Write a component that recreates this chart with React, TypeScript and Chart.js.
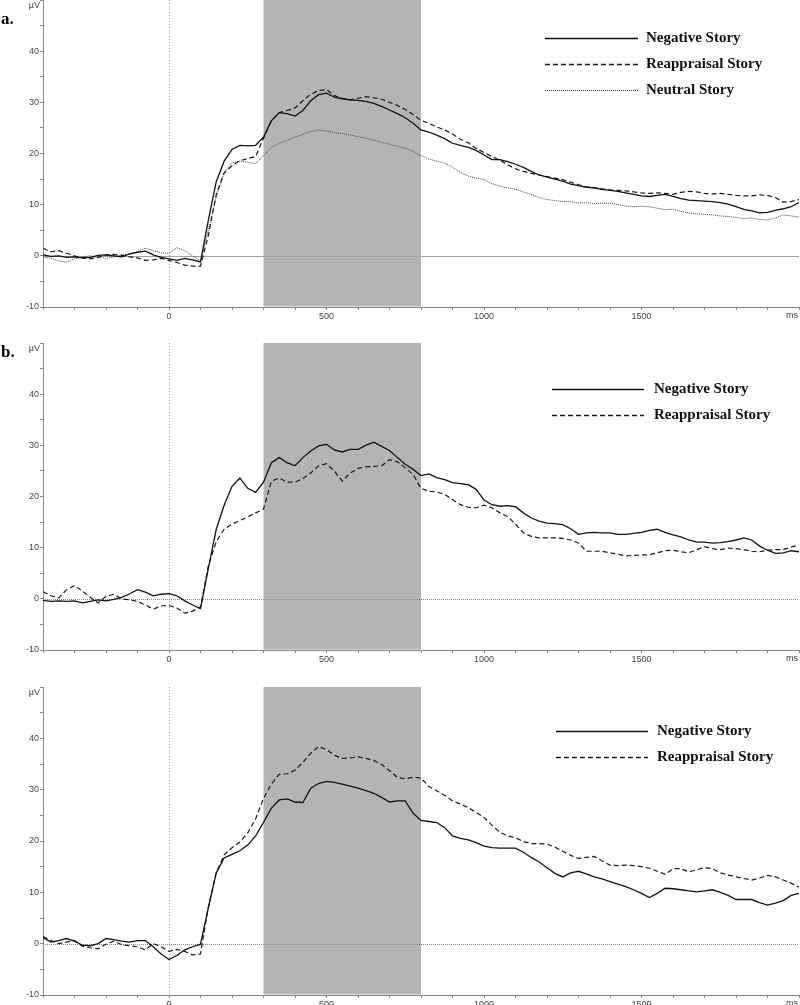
import React, { useEffect, useRef } from 'react';
import { Chart, registerables } from 'chart.js';

Chart.register(...registerables);

// time axis (ms), sampled every 25 ms from -400 to 2000
const TIMES: number[] = Array.from({ length: 97 }, (_, i) => -400 + i * 25);

const X_TICKS = [-400, -300, -200, -100, 0, 100, 200, 300, 400, 500, 600, 700, 800, 900, 1000, 1100, 1200, 1300, 1400, 1500, 1600, 1700, 1800, 1900, 2000];
const X_LABELS = [0, 500, 1000, 1500];
const Y_TICKS = [-10, -5, 0, 5, 10, 15, 20, 25, 30, 35, 40, 45, 50];
const Y_LABELS = [-10, 0, 10, 20, 30, 40];
const SHADE_FROM = 300;
const SHADE_TO = 800;

const LABEL_NEG = 'Negative Story';
const LABEL_REA = 'Reappraisal Story';
const LABEL_NEU = 'Neutral Story';

// Panel a
const A_NEGATIVE = [
  0.2, -0.1, 0.0, -0.3, -0.2, -0.4, -0.3, 0.1, 0.2, 0.0,
  -0.2, 0.4, 0.7, 0.9, 0.2, -0.3, -0.6, -0.9, -0.5, -0.8,
  -1.2, 7, 14.5, 18.5, 20.8, 21.6, 21.5, 21.6, 23.2, 26.4,
  28.0, 27.8, 27.3, 28.4, 30.3, 31.5, 31.8, 31.0, 30.7, 30.5,
  30.4, 30.2, 29.8, 29.2, 28.5, 27.8, 27.0, 25.9, 24.6, 24.2,
  23.6, 22.9, 22.0, 21.6, 21.2, 20.6, 19.7, 18.8, 18.8, 18.4,
  17.9, 17.3, 16.5, 15.8, 15.4, 15.0, 14.6, 14.0, 13.7, 13.4,
  13.3, 13.0, 12.8, 12.6, 12.3, 12.0, 11.7, 11.6, 11.8, 12.0,
  11.6, 11.2, 10.9, 10.8, 10.7, 10.6, 10.4, 10.1, 9.6, 9.1,
  8.8, 8.4, 8.5, 8.9, 9.2, 9.6, 10.4,
];
const A_REAPPRAISAL = [
  1.5, 0.8, 1.0, 0.5, 0.0, -0.4, -0.6, -0.3, 0.2, 0.3,
  0.1, -0.2, -0.4, -0.9, -0.8, -0.5, -0.9, -1.3, -1.8, -2.0,
  -2.0, 4, 12, 16.2, 17.6, 18.6, 19.0, 19.4, 23.0, 26.4,
  28.0, 28.4, 28.9, 30.3, 31.6, 32.3, 32.5, 31.3, 30.8, 30.5,
  30.8, 31.1, 30.9, 30.6, 30.0, 29.4, 28.6, 27.6, 26.5, 25.9,
  25.2, 24.6, 23.8, 22.8, 22.1, 21.0, 20.2, 19.4, 18.7, 17.8,
  17.0, 16.5, 16.1, 15.8, 15.5, 15.2, 14.9, 14.4, 13.9, 13.5,
  13.3, 13.1, 12.9, 12.8, 12.7, 12.5, 12.3, 12.2, 12.3, 12.2,
  12.0, 12.4, 12.6, 12.5, 12.2, 12.1, 12.2, 12.0, 11.8, 11.7,
  11.7, 11.9, 11.8, 11.4, 10.5, 10.6, 11.0,
];
const A_NEUTRAL = [
  -0.2, -0.5, -1.0, -1.2, -0.6, -0.2, 0.0, -0.3, -0.5, -0.2,
  0.2, 0.3, 0.8, 1.5, 1.0, 0.6, 0.5, 1.6, 1.0, 0.0,
  -1.0, 5, 11.5, 16.2, 18.2, 18.5, 18.3, 18.0, 19.6, 21.2,
  22.0, 22.6, 23.2, 23.7, 24.3, 24.6, 24.4, 24.1, 23.9, 23.6,
  23.3, 23.0, 22.6, 22.2, 21.8, 21.4, 21.0, 20.4, 19.6, 18.9,
  18.5, 18.1, 17.3, 16.3, 15.6, 15.2, 14.9, 14.1, 13.6, 13.3,
  13.0, 12.5, 12.0, 11.4, 11.0, 10.8, 10.6, 10.6, 10.3, 10.4,
  10.2, 10.3, 10.3, 10.0, 9.7, 9.6, 9.7, 9.6, 9.3, 9.0,
  9.1, 8.7, 8.4, 8.2, 8.1, 8.0, 7.8, 7.7, 7.5, 7.3,
  7.4, 7.1, 7.0, 7.4, 8.0, 7.8, 7.6,
];

// Panel b
const B_NEGATIVE = [
  -0.3, -0.5, -0.4, -0.5, -0.4, -0.8, -0.5, -0.2, -0.4, -0.1,
  0.3, 1.0, 1.8, 1.3, 0.6, 0.9, 1.0, 0.6, -0.4, -1.2,
  -1.9, 6.0, 13.6, 18.3, 22.0, 23.6, 21.6, 20.8, 22.8, 26.6,
  27.6, 26.6, 26.0, 27.6, 28.9, 29.9, 30.2, 29.1, 28.7, 29.2,
  29.2, 30.0, 30.6, 29.8, 29.0, 27.6, 26.3, 25.3, 24.1, 24.4,
  23.7, 23.3, 22.7, 22.5, 22.3, 21.4, 19.3, 18.4, 18.1, 18.2,
  18.0, 16.8, 15.8, 15.2, 14.8, 14.7, 14.5, 13.7, 12.6, 12.9,
  13.0, 12.9, 12.9, 12.6, 12.6, 12.8, 13.0, 13.4, 13.6, 13.0,
  12.5, 12.1, 11.5, 11.1, 11.1, 10.9, 11.0, 11.2, 11.5, 11.9,
  11.5, 10.3, 9.5, 8.9, 9.0, 9.4, 9.2,
];
const B_REAPPRAISAL = [
  1.4, 0.6, 0.2, 1.8, 2.6, 1.5, 0.3, -0.8, 0.5, 0.9,
  0.0, -0.2, -0.5, -1.2, -2.0, -1.4, -1.3, -1.8, -2.8, -2.4,
  -1.6, 6.5, 11.2, 13.6, 14.6, 15.3, 16.0, 16.8, 17.5, 23.0,
  23.6, 22.8, 22.8, 23.5, 24.6, 26.0, 26.4, 25.0, 23.0, 24.6,
  25.5, 25.8, 25.9, 26.0, 27.2, 26.8, 25.6, 24.3, 21.6, 21.0,
  20.9, 20.4, 19.4, 18.4, 17.9, 17.8, 18.3, 17.8, 16.8, 16.1,
  14.6, 12.9, 12.2, 11.9, 11.9, 11.9, 11.8, 11.5, 10.9, 9.3,
  9.3, 9.3, 9.0, 8.7, 8.4, 8.5, 8.6, 8.6, 9.0, 9.4,
  9.5, 9.2, 9.0, 9.6, 10.2, 9.8, 9.6, 9.9, 9.8, 9.6,
  9.3, 9.2, 9.5, 9.6, 9.6, 10.1, 10.5,
];

// Panel c
const C_NEGATIVE = [
  1.2, 0.3, 0.6, 1.0, 0.5, -0.3, -0.4, 0.0, 1.0, 0.8,
  0.5, 0.3, 0.6, 0.6, -0.6, -2.0, -3.1, -2.3, -1.2, -0.6,
  -0.1, 7.0, 13.8, 16.7, 17.4, 18.1, 19.2, 21.0, 23.6, 26.4,
  28.0, 28.2, 27.6, 27.5, 30.3, 31.2, 31.6, 31.4, 31.1, 30.7,
  30.3, 29.8, 29.3, 28.5, 27.6, 27.8, 27.8, 25.4, 24.0, 23.8,
  23.6, 22.6, 21.0, 20.5, 20.2, 19.7, 19.0, 18.7, 18.6, 18.6,
  18.6, 17.8, 16.8, 15.9, 14.8, 13.7, 13.0, 13.8, 14.1, 13.6,
  13.0, 12.6, 12.1, 11.6, 11.1, 10.5, 9.8, 9.0, 9.8, 10.8,
  10.7, 10.5, 10.3, 10.1, 10.3, 10.5, 10.0, 9.4, 8.6, 8.6,
  8.6, 8.0, 7.5, 7.9, 8.4, 9.4, 9.8,
];
const C_REAPPRAISAL = [
  1.4, 0.6, 0.0, 0.3, 0.6, -0.5, -0.8, -1.0, -0.1, 0.5,
  -0.2, -0.4, -0.6, -1.2, 0.0, -0.6, -1.5, -1.1, -1.5, -2.2,
  -2.0, 7.2, 13.8, 17.3, 18.7, 19.8, 21.6, 24.3, 28.3, 31.1,
  33.0, 33.1, 33.8, 35.3, 37.1, 38.4, 37.8, 36.7, 36.1, 36.2,
  36.4, 36.1, 35.7, 34.9, 33.7, 32.4, 32.1, 32.4, 32.3, 30.6,
  29.8, 28.9, 27.8, 27.2, 26.5, 25.6, 24.6, 23.1, 21.7, 21.0,
  20.6, 19.9, 19.5, 19.5, 19.4, 18.8, 18.0, 17.2, 16.6, 16.8,
  17.0, 16.1, 15.3, 15.2, 15.3, 15.2, 15.0, 14.7, 14.1, 13.5,
  14.6, 14.6, 14.0, 14.4, 14.8, 14.6, 13.8, 13.4, 13.0, 12.7,
  12.4, 12.8, 13.3, 13.0, 12.4, 11.8, 11.0,
];

const STYLE_NEG = { borderColor: '#111111', borderWidth: 1.3, borderDash: [] as number[] };
const STYLE_REA = { borderColor: '#1a1a1a', borderWidth: 1.2, borderDash: [5, 3] };
const STYLE_NEU = { borderColor: '#444444', borderWidth: 1, borderDash: [1, 1] };

function makeDataset(label: string, values: number[], style: any) {
  return {
    label,
    data: TIMES.map((t, i) => ({ x: t, y: values[i] })),
    borderColor: style.borderColor,
    borderWidth: style.borderWidth,
    borderDash: style.borderDash,
    pointRadius: 0,
    fill: false,
    tension: 0,
  };
}

type PanelProps = {
  top: number;
  height: number;
  datasets: any[];
  letter?: string;
  letterY?: number;
  legendX: number;
  legendLineEnd: number;
  legendTextX: number;
  legendY: number;
  zeroSolid: boolean;
};

function Panel(props: PanelProps) {
  const ref = useRef<HTMLCanvasElement>(null);
  useEffect(() => {
    const canvas = ref.current!;
    const decorations = {
      id: 'decorations',
      beforeDatasetsDraw(chart: any) {
        const { ctx, chartArea } = chart;
        const xs = chart.scales.x;
        const ys = chart.scales.y;
        ctx.save();
        // shaded window
        const x1 = xs.getPixelForValue(SHADE_FROM);
        const x2 = xs.getPixelForValue(SHADE_TO);
        ctx.fillStyle = '#b4b4b4';
        ctx.fillRect(x1, chartArea.top, x2 - x1, chartArea.bottom - chartArea.top - 0.5);
        // zero horizontal line
        const y0 = Math.round(ys.getPixelForValue(0)) + 0.5;
        ctx.beginPath();
        ctx.lineWidth = 1;
        if (props.zeroSolid) {
          ctx.strokeStyle = '#a0a0a0';
          ctx.setLineDash([]);
        } else {
          ctx.strokeStyle = '#8a8a8a';
          ctx.setLineDash([1, 1]);
        }
        ctx.moveTo(chartArea.left, y0);
        ctx.lineTo(chartArea.right, y0);
        ctx.stroke();
        // zero vertical line
        const xz = Math.round(xs.getPixelForValue(0)) + 0.5;
        ctx.beginPath();
        ctx.strokeStyle = '#9a9a9a';
        ctx.setLineDash([1, 2]);
        ctx.moveTo(xz, chartArea.top);
        ctx.lineTo(xz, chartArea.bottom);
        ctx.stroke();
        ctx.restore();
      },
      afterDraw(chart: any) {
        const { ctx, chartArea } = chart;
        ctx.save();
        // unit labels
        ctx.fillStyle = '#444';
        ctx.font = '9px "Liberation Sans", Arial, sans-serif';
        ctx.textAlign = 'right';
        ctx.textBaseline = 'middle';
        ctx.fillText('\u00b5V', chartArea.left - 3, chartArea.top + 6);
        ctx.textBaseline = 'top';
        ctx.fillText('ms', 798, chartArea.bottom + 4);
        // panel letter
        if (props.letter) {
          ctx.fillStyle = '#000';
          ctx.font = 'bold 17px "Liberation Serif", "Times New Roman", serif';
          ctx.textAlign = 'left';
          ctx.textBaseline = 'alphabetic';
          ctx.fillText(props.letter, 1, props.letterY);
        }
        // legend
        chart.data.datasets.forEach((ds: any, i: number) => {
          const y = props.legendY + i * 26;
          ctx.beginPath();
          ctx.strokeStyle = ds.borderColor;
          ctx.lineWidth = ds.borderWidth + 0.3;
          ctx.setLineDash(ds.borderDash || []);
          ctx.moveTo(props.legendX, y + 0.5);
          ctx.lineTo(props.legendLineEnd, y + 0.5);
          ctx.stroke();
          ctx.setLineDash([]);
          ctx.fillStyle = '#111';
          ctx.font = 'bold 15px "Liberation Serif", "Times New Roman", serif';
          ctx.textAlign = 'left';
          ctx.textBaseline = 'middle';
          ctx.fillText(ds.label, props.legendTextX, y);
        });
        ctx.restore();
      },
    };

    const tickFont = { family: '"Liberation Sans", Arial, sans-serif', size: 9 };
    const chart = new Chart(canvas, {
      type: 'line',
      data: { datasets: props.datasets },
      options: {
        animation: false,
        responsive: false,
        maintainAspectRatio: false,
        devicePixelRatio: 1,
        layout: { padding: { top: 10, left: 0, right: 0, bottom: 0 } },
        plugins: { legend: { display: false }, tooltip: { enabled: false } },
        elements: { point: { radius: 0 }, line: { tension: 0 } },
        scales: {
          x: {
            type: 'linear',
            min: -400,
            max: 2000,
            afterBuildTicks: (s: any) => {
              s.ticks = X_TICKS.map((v) => ({ value: v }));
            },
            afterFit: (s: any) => {
              s.height = 20;
            },
            ticks: {
              autoSkip: false,
              maxRotation: 0,
              padding: 1,
              color: '#444',
              font: tickFont,
              callback: (v: any) => (X_LABELS.includes(Number(v)) ? String(v) : ''),
            },
            grid: { drawOnChartArea: false, drawTicks: true, tickLength: 3, tickColor: '#888' },
            border: { color: '#888', width: 1 },
          },
          y: {
            type: 'linear',
            min: -10,
            max: 50,
            afterBuildTicks: (s: any) => {
              s.ticks = Y_TICKS.map((v) => ({ value: v }));
            },
            afterFit: (s: any) => {
              s.width = 43;
            },
            ticks: {
              autoSkip: false,
              padding: 1,
              color: '#444',
              font: tickFont,
              callback: (v: any) => (Y_LABELS.includes(Number(v)) ? String(v) : ''),
            },
            grid: { drawOnChartArea: false, drawTicks: true, tickLength: 3, tickColor: '#888' },
            border: { color: '#888', width: 1 },
          },
        },
      } as any,
      plugins: [decorations],
    });
    return () => chart.destroy();
  }, []);
  return (
    <canvas
      ref={ref}
      width={800}
      height={props.height}
      style={{ position: 'absolute', left: 0, top: props.top, width: 800, height: props.height, display: 'block' }}
    />
  );
}

export default function App() {
  const dsA = [
    makeDataset(LABEL_NEG, A_NEGATIVE, STYLE_NEG),
    makeDataset(LABEL_REA, A_REAPPRAISAL, STYLE_REA),
    makeDataset(LABEL_NEU, A_NEUTRAL, STYLE_NEU),
  ];
  const dsB = [
    makeDataset(LABEL_NEG, B_NEGATIVE, STYLE_NEG),
    makeDataset(LABEL_REA, B_REAPPRAISAL, STYLE_REA),
  ];
  const dsC = [
    makeDataset(LABEL_NEG, C_NEGATIVE, STYLE_NEG),
    makeDataset(LABEL_REA, C_REAPPRAISAL, STYLE_REA),
  ];
  return (
    <div style={{ position: 'absolute', left: 0, top: 0, width: 800, height: 1005, overflow: 'hidden', background: '#fff' }}>
      <Panel top={-10} height={337} datasets={dsA} letter="a." letterY={34}
        legendX={545} legendLineEnd={638} legendTextX={646} legendY={48} zeroSolid={true} />
      <Panel top={333} height={337} datasets={dsB} letter="b." letterY={24}
        legendX={552} legendLineEnd={644} legendTextX={654} legendY={56} zeroSolid={false} />
      <Panel top={677} height={338} datasets={dsC}
        legendX={556} legendLineEnd={648} legendTextX={657} legendY={54} zeroSolid={false} />
    </div>
  );
}
